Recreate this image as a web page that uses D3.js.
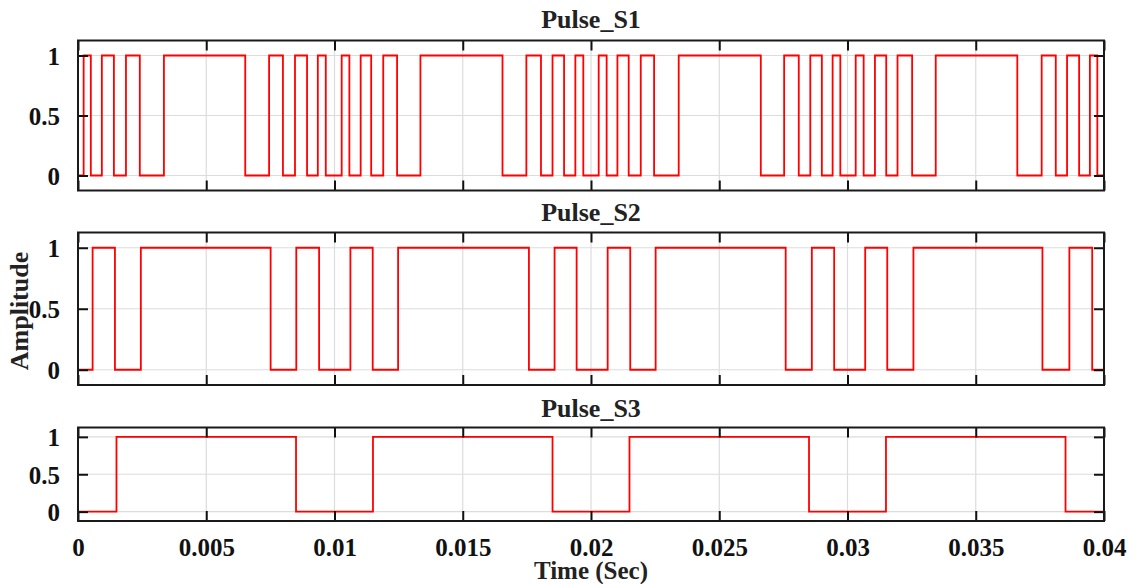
<!DOCTYPE html>
<html><head><meta charset="utf-8">
<script src="https://cdn.jsdelivr.net/npm/d3@7"></script>
<style>
html,body{margin:0;padding:0;background:#fff;}
svg{display:block;}
text{font-family:"Liberation Serif","Times New Roman",serif;font-weight:bold;}
</style></head>
<body>
<svg id="chart" width="1136" height="584"></svg>
<script>
// ---- data (switching instants in ms; each series starts at 0 and toggles) ----
const seriesNames = ["Pulse_S1", "Pulse_S2", "Pulse_S3"];
const s1Switch = [0.22,0.5,0.93,1.4,1.87,2.41,3.35,6.52,7.45,7.99,8.46,8.93,9.35,9.66,10.28,10.58,11.02,11.43,11.9,12.44,13.35,16.55,17.48,18.05,18.5,18.95,19.39,19.7,20.3,20.61,21.03,21.47,21.94,22.46,23.42,26.62,27.53,28.1,28.55,29.0,29.42,29.72,30.32,30.63,31.07,31.51,31.95,32.52,33.44,36.62,37.57,38.12,38.56,39.03,39.45,39.74];
const s2Switch = [0.57,1.44,2.45,7.51,8.51,9.4,10.62,11.49,12.48,17.58,18.58,19.44,20.65,21.53,22.52,27.59,28.61,29.48,30.69,31.55,32.57,37.6,38.65,39.54];
const s3Switch = [1.5,8.5,11.5,18.5,21.5,28.5,31.5,38.5];
const switchTimes = [s1Switch, s2Switch, s3Switch];
const xTicks = [0,0.005,0.01,0.015,0.02,0.025,0.03,0.035,0.04];
const xTickLabels = ["0","0.005","0.01","0.015","0.02","0.025","0.03","0.035","0.04"];
const yTicks = [0,0.5,1];
const yTickLabels = ["0","0.5","1"];
const tEnd = 0.04;

// ---- layout ----
const svg = d3.select("#chart");
const left = 78, right = 1104;
const panels = [
  {top: 40.5, bottom: 190.5, titleY: 28},
  {top: 232.5, bottom: 385, titleY: 221},
  {top: 427.5, bottom: 521, titleY: 417}
];
const x = d3.scaleLinear().domain([0, tEnd]).range([left, right]);
const tickLen = 10;

function stepPoints(sw){
  const pts = [[0,0]];
  let v = 0;
  sw.forEach(ms => { v = 1 - v; pts.push([ms/1000, v]); });
  pts.push([tEnd, v]);
  return pts;
}

panels.forEach((p, i) => {
  const y = d3.scaleLinear().domain([-0.125, 1.125]).range([p.bottom, p.top]);
  const g = svg.append("g");
  // grid
  g.selectAll(".gx").data(xTicks).enter().append("line")
    .attr("x1", d => x(d)).attr("x2", d => x(d)).attr("y1", p.top).attr("y2", p.bottom)
    .attr("stroke", "#dcdcdc").attr("stroke-width", 1.2);
  g.selectAll(".gy").data(yTicks).enter().append("line")
    .attr("x1", left).attr("x2", right).attr("y1", d => y(d)).attr("y2", d => y(d))
    .attr("stroke", "#dcdcdc").attr("stroke-width", 1.2);
  // signal
  const line = d3.line().x(d => x(d[0])).y(d => y(d[1])).curve(d3.curveStepAfter);
  g.append("path").datum(stepPoints(switchTimes[i]))
    .attr("d", line).attr("fill", "none").attr("stroke", "#ff0000").attr("stroke-width", 1.8);
  // axes with inward ticks
  const axL = d3.axisLeft(y).tickValues(yTicks).tickSizeInner(-tickLen).tickSizeOuter(0)
    .tickFormat((d, k) => yTickLabels[k]).tickPadding(tickLen + 8);
  const gl = g.append("g").attr("transform", `translate(${left},0)`).call(axL);
  const axR = d3.axisRight(y).tickValues(yTicks).tickSizeInner(-tickLen).tickSizeOuter(0).tickFormat("");
  const gr = g.append("g").attr("transform", `translate(${right},0)`).call(axR);
  const axT = d3.axisTop(x).tickValues(xTicks).tickSizeInner(-tickLen).tickSizeOuter(0).tickFormat("");
  const gt = g.append("g").attr("transform", `translate(0,${p.top})`).call(axT);
  const axB = d3.axisBottom(x).tickValues(xTicks).tickSizeInner(-tickLen).tickSizeOuter(0)
    .tickFormat((d, k) => i === 2 ? xTickLabels[k] : "").tickPadding(tickLen + 7);
  const gb = g.append("g").attr("transform", `translate(0,${p.bottom})`).call(axB);
  [gl, gr, gt, gb].forEach(a => {
    a.select(".domain").remove();
    a.selectAll(".tick line").attr("stroke", "#111").attr("stroke-width", 2);
    a.selectAll("text").attr("font-size", 25).attr("fill", "#111")
      .attr("font-family", "Liberation Serif, Times New Roman, serif").attr("font-weight", "bold");
  });
  gl.selectAll("text").attr("dy", "0.35em");
  // box
  g.append("rect").attr("x", left).attr("y", p.top).attr("width", right - left).attr("height", p.bottom - p.top)
    .attr("fill", "none").attr("stroke", "#1a1a1a").attr("stroke-width", 2);
  // title
  g.append("text").attr("x", (left + right) / 2).attr("y", p.titleY).attr("text-anchor", "middle")
    .attr("font-size", 26).attr("fill", "#222").text(seriesNames[i]);
});

svg.append("text").attr("x", (left + right) / 2).attr("y", 579).attr("text-anchor", "middle")
  .attr("font-size", 25).attr("fill", "#222").text("Time (Sec)");
svg.append("text").attr("transform", "translate(28,311) rotate(-90)").attr("text-anchor", "middle")
  .attr("font-size", 26).attr("fill", "#222").text("Amplitude");
</script>
</body></html>
